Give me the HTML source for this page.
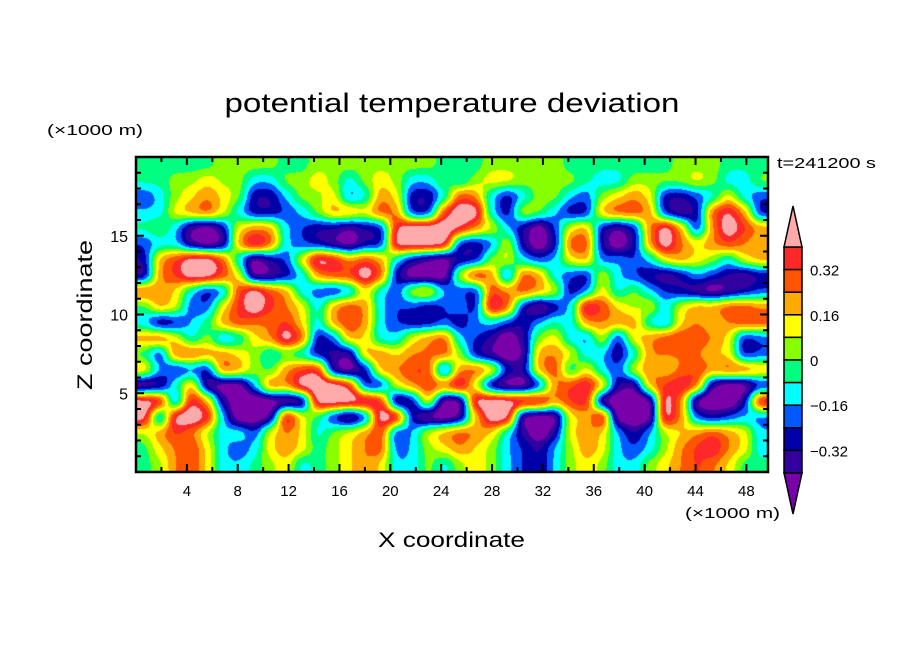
<!DOCTYPE html>
<html><head><meta charset="utf-8"><style>
html,body{margin:0;padding:0;background:#fff;}
#wrap{position:relative;width:904px;height:654px;overflow:hidden;}
#field{position:absolute;left:136px;top:157px;}
svg{position:absolute;left:0;top:0;}
text{font-family:"Liberation Sans",sans-serif;fill:#000;}
</style></head><body>
<div id="wrap">
<canvas id="field" width="632" height="315"></canvas>
<svg id="ov" width="904" height="654">
<text x="452" y="112" font-size="27" text-anchor="middle" textLength="455" lengthAdjust="spacingAndGlyphs">potential temperature deviation</text>
<text x="47" y="135" font-size="15" textLength="96" lengthAdjust="spacingAndGlyphs">(×1000 m)</text>
<text x="777" y="168" font-size="15" textLength="99" lengthAdjust="spacingAndGlyphs">t=241200 s</text>
<text x="685" y="518" font-size="15" textLength="95" lengthAdjust="spacingAndGlyphs">(×1000 m)</text>
<text x="378" y="547" font-size="21" textLength="147" lengthAdjust="spacingAndGlyphs">X coordinate</text>
<text x="0" y="0" font-size="21" textLength="150" lengthAdjust="spacingAndGlyphs" transform="translate(92,390) rotate(-90)">Z coordinate</text>
<g id="axes"></g>
<g id="cbar"></g>
</svg>
</div>
<script>
// band colours, lowest to highest
const bandColors = ["#7A00AA","#3300A0","#0000A8","#0058FF","#00FFFF","#00FF80","#88FF00","#FFFF00","#FFAA00","#FF5500","#FF2828","#FFAAAA"];
const codeKeys = "PDNBCGLYORrK"; // code index 0..11 -> band
const colorbarLabels = ["0.32","0.16","0","−0.16","−0.32"];
const colorbarLabelValues = [0.32,0.16,0,-0.16,-0.32];
const xTickLabels = [4,8,12,16,20,24,28,32,36,40,44,48];
const yTickLabels = [5,10,15];
// gridded field (20 rows top->bottom, 40 cols), letter = colour band
const fieldRows = [
"GGGGGLLLLGGLLLLLLLLGGGLLLLLGGGGGGGLLLGGG",
"GGLLYLLCCLLYLCLYLCCLCLYYLLLLGCCLLLLYLCCL",
"BCLYOYLNNCLLYBCOYNNCROCNCLLCBLYOYNNBCYCB",
"CCYORYCNNBCLOOYRONNRKKCNYLCNNORRONDNRrON",
"GLCDPNYOOCBNNDNNrKKKrOYCNPBYONDNOKONOKRO",
"BCCDPDOKRCBNDPNNKKKKNNBYNPNRRNPNOKOYOROY",
"NORKKRCPNBYKrOROCNDPNNLYCBCYOBCBCYOYLCYO",
"DORKKRYPDNCORRKRNPPPYrONROCBNYCBNDNCBNDN",
"ROYCNBRKROCBNBYCBYOCBNROROYNBYCLCBNDPDNB",
"GOYBBYRKROYCOROCBBNBCNKRNPNCKRYLYCYOORRO",
"CDNCGOROORYCOROCBNNBNCCBNCGCOOOOCBYOYORR",
"ORYCLBCYOKRNBOYCCYORCBNPNLYCBYNYORRROYNB",
"GNRROOYLCGCNNDOOYOORLNDPDOOYCCNCOOOOYYNB",
"OCNBNROLGORrDPNOORRDOROBNORCYCBYOYORORRO",
"PDGODPPCROKKKrNNYORRKLDPPNORrONDORrRDPPN",
"KKNrONPPPPPKKKKrPNOPPKKKKKORrPPPPKOPPPNK",
"KNKKrCPPDKYGNPNKKNPPDYKKPPPYYKPPPKOBNBCB",
"LOROLCGBYOYCLYORNCYOROYCNPNYOYCNCLYOROYC",
"GYORYCBCYOYGLYORBCLYOYLCBNCLOYCBCLORrOYC",
"GLORYCCGLYCGLYOYCCLCLYLCBNCLYLCCLYOROYGG"
];
const X_MAX = 49.7, Y_MAX = 20;
const PX = 136, PY = 157, PW = 632, PH = 315;
function sx(v){return PX + v/X_MAX*PW;}
function sy(v){return PY + PH - v/Y_MAX*PH;}

// draw field (gaussian-smoothed interpolation of the grid, contrast restored)
(function(){
  const cv = document.getElementById('field');
  const ctx = cv.getContext('2d');
  const rows = fieldRows.length, cols = fieldRows[0].length;
  const grid = fieldRows.map(r => r.split('').map(ch => codeKeys.indexOf(ch) + 0.5));
  const img = ctx.createImageData(PW, PH);
  const rgb = bandColors.map(h => [parseInt(h.substr(1,2),16),parseInt(h.substr(3,2),16),parseInt(h.substr(5,2),16)]);
  const cw = PW/cols, ch = PH/rows;
  const sig = 0.5, inv = 1/(2*sig*sig), gain = 1.22, mid = 6.0;
  for (let y=0;y<PH;y++){
    const gy = (y+0.5)/ch - 0.5;
    const jy0 = Math.max(0, Math.floor(gy)-1), jy1 = Math.min(rows-1, Math.floor(gy)+2);
    for (let x=0;x<PW;x++){
      const gx = (x+0.5)/cw - 0.5;
      const ix0 = Math.max(0, Math.floor(gx)-1), ix1 = Math.min(cols-1, Math.floor(gx)+2);
      let s=0, w=0;
      for (let j=jy0;j<=jy1;j++){
        const dy=(j-gy)*(j-gy);
        for (let i=ix0;i<=ix1;i++){
          const dx=(i-gx)*(i-gx);
          const k=Math.exp(-(dx+dy)*inv);
          s+=k*grid[j][i]; w+=k;
        }
      }
      const v = mid + (s/w - mid)*gain;
      let b = Math.floor(v); b = Math.max(0, Math.min(11, b));
      const c = rgb[b], p = (y*PW+x)*4;
      img.data[p]=c[0]; img.data[p+1]=c[1]; img.data[p+2]=c[2]; img.data[p+3]=255;
    }
  }
  ctx.putImageData(img,0,0);
})();

const NS = "http://www.w3.org/2000/svg";
function mk(tag, attrs, parent){
  const e = document.createElementNS(NS, tag);
  for (const k in attrs) e.setAttribute(k, attrs[k]);
  parent.appendChild(e); return e;
}
// axes
(function(){
  const g = document.getElementById('axes');
  const frame = mk('rect',{x:PX,y:PY,width:PW,height:PH,fill:'none',stroke:'#000','stroke-width':2.5},g);
  
  
  for (let v=2; v<X_MAX; v+=2){
    const major = v%4===0, L = major?8:5, x = sx(v);
    const t1 = mk('line',{x1:x,y1:PY+PH,x2:x,y2:PY+PH-L,stroke:'#000','stroke-width':2},g);
    
    
    const t2 = mk('line',{x1:x,y1:PY,x2:x,y2:PY+L,stroke:'#000','stroke-width':2},g);
    
    
  }
  xTickLabels.forEach(v=>{
    const t = mk('text',{x:sx(v),y:PY+PH+24,'font-size':15,'text-anchor':'middle'},g);
    t.textContent = v;
    
    
  });
  for (let v=1; v<Y_MAX; v+=1){
    const major = v%5===0, L = major?8:5, y = sy(v);
    const t1 = mk('line',{x1:PX,y1:y,x2:PX+L,y2:y,stroke:'#000','stroke-width':2},g);
    
    
    const t2 = mk('line',{x1:PX+PW,y1:y,x2:PX+PW-L,y2:y,stroke:'#000','stroke-width':2},g);
    
    
  }
  yTickLabels.forEach(v=>{
    const t = mk('text',{x:PX-8,y:sy(v)+6,'font-size':16,'text-anchor':'end'},g);
    t.textContent = v;
    
    
  });
})();
// colorbar
(function(){
  const g = document.getElementById('cbar');
  const CX = 784, CW = 18, CT = 247, CB = 473, n = bandColors.length-2;
  const bh = (CB-CT)/n;
  const step = 0.08, vTop = 0.40;
  for (let i=0;i<n;i++){
    const r = mk('rect',{x:CX,y:CT+i*bh,width:CW,height:bh,fill:bandColors[n-i],stroke:'#000','stroke-width':1.5},g);
    
    
  }
  const up = mk('polygon',{points:`${CX},${CT} ${CX+CW},${CT} ${CX+CW/2},206`,fill:bandColors[11],stroke:'#000','stroke-width':1.5},g);
  
  
  const dn = mk('polygon',{points:`${CX},${CB} ${CX+CW},${CB} ${CX+CW/2},514`,fill:bandColors[0],stroke:'#000','stroke-width':1.5},g);
  
  
  colorbarLabels.forEach((lab,i)=>{
    const y = CT + (vTop - colorbarLabelValues[i])/step*bh;
    const t = mk('text',{x:810,y:y+6,'font-size':15},g);
    t.textContent = lab;
    
    
  });
})();
</script>
</body></html>
